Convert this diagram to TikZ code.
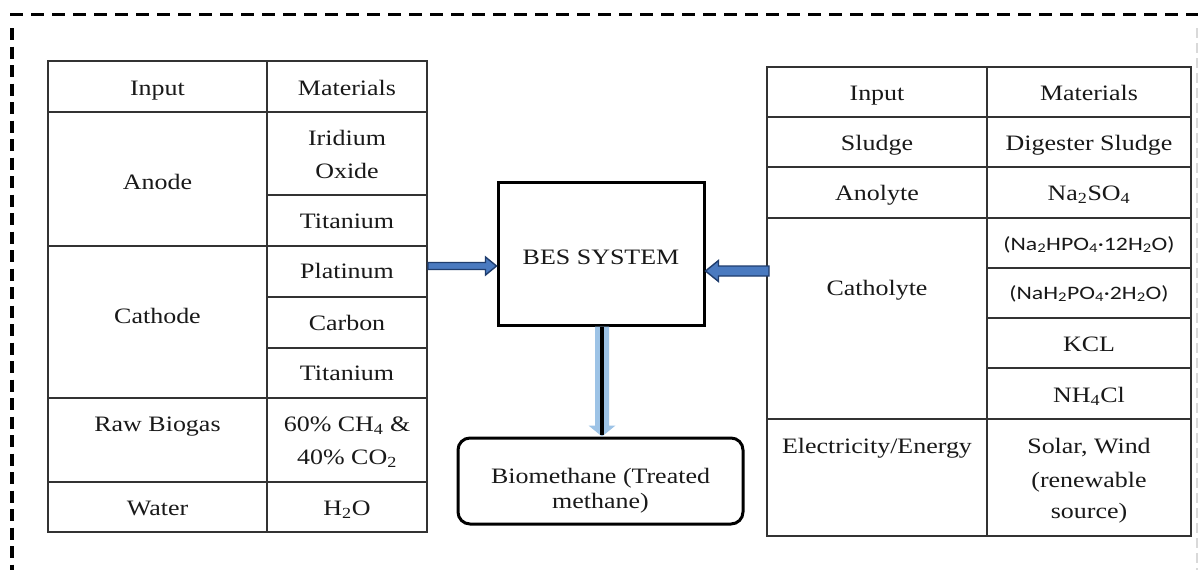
\documentclass[tikz,border=0pt]{standalone}
\usepackage{fontspec}
\setmainfont[FakeStretch=1.18]{Liberation Serif}
\newfontfamily\cfont[FakeStretch=1.25]{Carlito}
\usetikzlibrary{calc}
\definecolor{arrfill}{HTML}{4A7AC0}
\definecolor{arrline}{HTML}{1F3D6E}
\definecolor{lblue}{HTML}{9DC3E6}
\definecolor{tgray}{HTML}{333333}
\newcommand\cellnode[5]{\node[cellbox, minimum width={(#4-#2)*1pt}, minimum height={(#5-#3)*1pt}] (#1) at ({(#2+#4)/2},{(#3+#5)/2}) {};}
\newcommand\txtnode[4]{\node[txt] (#1) at (#2,#3) {#4};}
\newcommand\ctxtnode[4]{\node[ctxt] (#1) at (#2,#3) {#4};}
\begin{document}
\begin{tikzpicture}[x=1pt,y=-1pt,
  tline/.style={draw=tgray, line width=1.3pt},
  cellbox/.style={tline, rectangle, inner sep=0pt},
  txt/.style={inner sep=0pt, anchor=base, text=black!90, font=\fontsize{22}{26}\selectfont},
  ctxt/.style={inner sep=0pt, anchor=base, text=black!90, font=\cfont\fontsize{19}{23}\selectfont},
  mainbox/.style={draw=black, line width=3pt, rectangle, inner sep=0pt},
  blockarr/.style={fill=arrfill, draw=arrline, line width=1.4pt, line join=miter},
]
\useasboundingbox (0,0) rectangle (1198,570);
\fill[white] (0,0) rectangle (1198,570);

% dashed frame
\draw[line width=3pt, dash pattern=on 13pt off 8pt] (10,14) -- (1198,14);
\draw[line width=3.5pt, dash pattern=on 12pt off 6.5pt] (12,28) -- (12,570);
\draw[line width=2pt, black!15, dash pattern=on 10pt off 5pt] (1197,28) -- (1197,570);

% left table
\cellnode{lh1}{48}{61}{267}{112}
\cellnode{lh2}{267}{61}{427}{112}
\cellnode{lan}{48}{112}{267}{246}
\cellnode{lir}{267}{112}{427}{195}
\cellnode{lti}{267}{195}{427}{246}
\cellnode{lca}{48}{246}{267}{398}
\cellnode{lpt}{267}{246}{427}{297}
\cellnode{lcb}{267}{297}{427}{348}
\cellnode{ltt}{267}{348}{427}{398}
\cellnode{lrb}{48}{398}{267}{482}
\cellnode{lmx}{267}{398}{427}{482}
\cellnode{lwa}{48}{482}{267}{532}
\cellnode{lho}{267}{482}{427}{532}

\txtnode{tlh1}{157.5}{95}{Input}
\txtnode{tlh2}{347}{95}{Materials}
\txtnode{tlan}{157.5}{189}{Anode}
\txtnode{tlir1}{347}{145}{Iridium}
\txtnode{tlir2}{347}{178}{Oxide}
\txtnode{tlti}{347}{228}{Titanium}
\txtnode{tlca}{157.5}{323}{Cathode}
\txtnode{tlpt}{347}{278}{Platinum}
\txtnode{tlcb}{347}{330}{Carbon}
\txtnode{tltt}{347}{380}{Titanium}
\txtnode{tlrb}{157.5}{431}{Raw Biogas}
\txtnode{tlmx1}{347}{431}{60\% CH\textsubscript{4} \&}
\txtnode{tlmx2}{347}{464}{40\% CO\textsubscript{2}}
\txtnode{tlwa}{157.5}{515}{Water}
\txtnode{tlho}{347}{515}{H\textsubscript{2}O}

% right table
\cellnode{rh1}{767}{67}{987}{117}
\cellnode{rh2}{987}{67}{1191}{117}
\cellnode{rsl}{767}{117}{987}{167}
\cellnode{rds}{987}{117}{1191}{167}
\cellnode{ran}{767}{167}{987}{218}
\cellnode{rna}{987}{167}{1191}{218}
\cellnode{rct}{767}{218}{987}{419}
\cellnode{rc1}{987}{218}{1191}{268}
\cellnode{rc2}{987}{268}{1191}{318}
\cellnode{rc3}{987}{318}{1191}{368}
\cellnode{rc4}{987}{368}{1191}{419}
\cellnode{rel}{767}{419}{987}{536}
\cellnode{rso}{987}{419}{1191}{536}

\txtnode{trh1}{877}{100}{Input}
\txtnode{trh2}{1089}{100}{Materials}
\txtnode{trsl}{877}{150}{Sludge}
\txtnode{trds}{1089}{150}{Digester Sludge}
\txtnode{tran}{877}{200}{Anolyte}
\txtnode{trna}{1089}{200}{Na\textsubscript{2}SO\textsubscript{4}}
\txtnode{trct}{877}{295}{Catholyte}
\ctxtnode{trc1}{1089}{250}{(Na\textsubscript{2}HPO\textsubscript{4}·12H\textsubscript{2}O)}
\ctxtnode{trc2}{1089}{299}{(NaH\textsubscript{2}PO\textsubscript{4}·2H\textsubscript{2}O)}
\txtnode{trc3}{1089}{351}{KCL}
\txtnode{trc4}{1089}{402}{NH\textsubscript{4}Cl}
\txtnode{trel}{877}{453}{Electricity/Energy}
\txtnode{trso1}{1089}{453}{Solar, Wind}
\txtnode{trso2}{1089}{487}{(renewable}
\txtnode{trso3}{1089}{518}{source)}

% central boxes
\node[mainbox, minimum width=206pt, minimum height=143pt] (bes) at (601,253.5) {};
\txtnode{tbes}{601}{264}{BES SYSTEM}
\node[mainbox, rounded corners=12pt, minimum width=285pt, minimum height=86pt] (bio) at (600.5,481) {};
\txtnode{tbio1}{600.5}{483}{Biomethane (Treated}
\txtnode{tbio2}{600.5}{508}{methane)}

% arrows
\coordinate (lA) at (428,266);
\coordinate (lB) at (bes.west |- lA);
\draw[blockarr] ($(lA)+(0,-3.5)$) -- ($(lB)+(-11,-3.5)$) -- ($(lB)+(-11,-9)$) -- (lB) -- ($(lB)+(-11,9)$) -- ($(lB)+(-11,3.5)$) -- ($(lA)+(0,3.5)$) -- cycle;

\coordinate (rA) at (769,271);
\coordinate (rB) at (bes.east |- rA);
\draw[blockarr] ($(rA)+(0,-5)$) -- ($(rB)+(13,-5)$) -- ($(rB)+(13,-10.5)$) -- (rB) -- ($(rB)+(13,10.5)$) -- ($(rB)+(13,5)$) -- ($(rA)+(0,5)$) -- cycle;

\coordinate (dA) at ($(bes.south)+(1,0)$);
\coordinate (dB) at (dA |- bio.north);
\fill[lblue] ($(dA)+(-7,0)$) -- ($(dB)+(-7,-11)$) -- ($(dB)+(-13.5,-11)$) -- (dB) -- ($(dB)+(13.5,-11)$) -- ($(dB)+(7,-11)$) -- ($(dA)+(7,0)$) -- cycle;
\draw[line width=4.5pt, black] (dA) -- ($(dB)+(0,-2)$);
\end{tikzpicture}
\end{document}
